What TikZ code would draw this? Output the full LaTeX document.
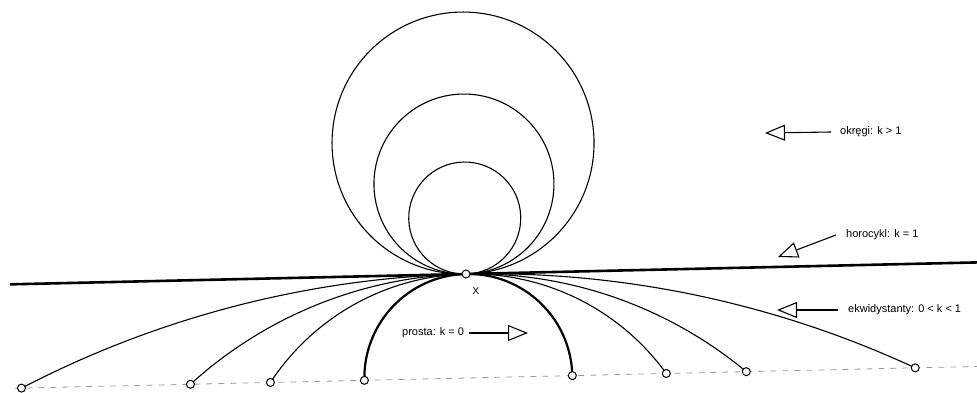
\documentclass[tikz,border=0pt]{standalone}
\usepackage{fontspec}
\setmainfont{Liberation Sans}
\usetikzlibrary{arrows.meta,positioning,calc}
\tikzset{
  crv/.style ={line width=1.1pt},
  geo/.style ={line width=2.2pt},
  horo/.style={line width=2.6pt},
  rim/.style ={dash pattern=on 6pt off 6pt, draw=black!40, line width=0.8pt},
  pt/.style  ={circle, draw, fill=white, line width=1pt, inner sep=0pt, minimum size=8pt},
  lbl/.style ={anchor=west, inner sep=0pt, font=\fontsize{11}{13}\selectfont},
  ar/.style  ={-{Triangle[open, length=20pt, width=16pt]}, line width=1.1pt},
}
\begin{document}
\begin{tikzpicture}[x=1pt,y=1pt]
\useasboundingbox (0,0) rectangle (977,392);
\coordinate (X) at (466,118);
\begin{scope}[shift={(X)}, rotate=1.3]
\draw[rim] (-454,-104) -- (511,-104);
\draw[horo] (-456,0) -- (511,0);
\foreach \rad in {56,90,131}{\draw[crv] (0,\rad) circle[radius=\rad];}
\draw[geo] (-104,-104) arc[start angle=180, end angle=0, radius=104];
\foreach \w in {198,278,447}{
  \pgfmathsetmacro\rad{\w*(\w/208)+52}
  \pgfmathsetmacro\ang{atan2(\rad-104,\w)}
  \draw[crv] (0,0) arc[start angle=90, end angle=\ang, radius=\rad];
  \draw[crv] (0,0) arc[start angle=90, end angle=180-\ang, radius=\rad];
}
\foreach \w/\nm in {104/a,198/b,278/c,447/d}{
  \node[pt] (l\nm) at (-\w,-104) {};
  \node[pt] (r\nm) at (\w,-104) {};
}
\end{scope}
\node[pt] (x) at (X) {};
\node[font=\fontsize{10}{12}\selectfont] (xl) at (476,101) {X};

\node[lbl] (ok) at (840,260) {okręgi: k > 1};
\coordinate (okt) at (765,259);
\draw[ar] ([xshift=-9pt]ok.west) -- (okt);

\node[lbl] (ho) at (846,157) {horocykl: k = 1};
\coordinate (hot) at (778,135);
\draw[ar] ([xshift=-10pt]ho.west) -- (hot);

\node[lbl] (ek) at (848,82) {ekwidystanty: 0 < k < 1};
\coordinate (ekt) at (777,82);
\draw[ar] ([xshift=-10pt]ek.west) -- (ekt);

\node[lbl] (pr) at (402,59) {prosta: k = 0};
\coordinate (prt) at (528,59);
\draw[ar] ([xshift=5pt]pr.east) -- (prt);
\end{tikzpicture}
\end{document}
